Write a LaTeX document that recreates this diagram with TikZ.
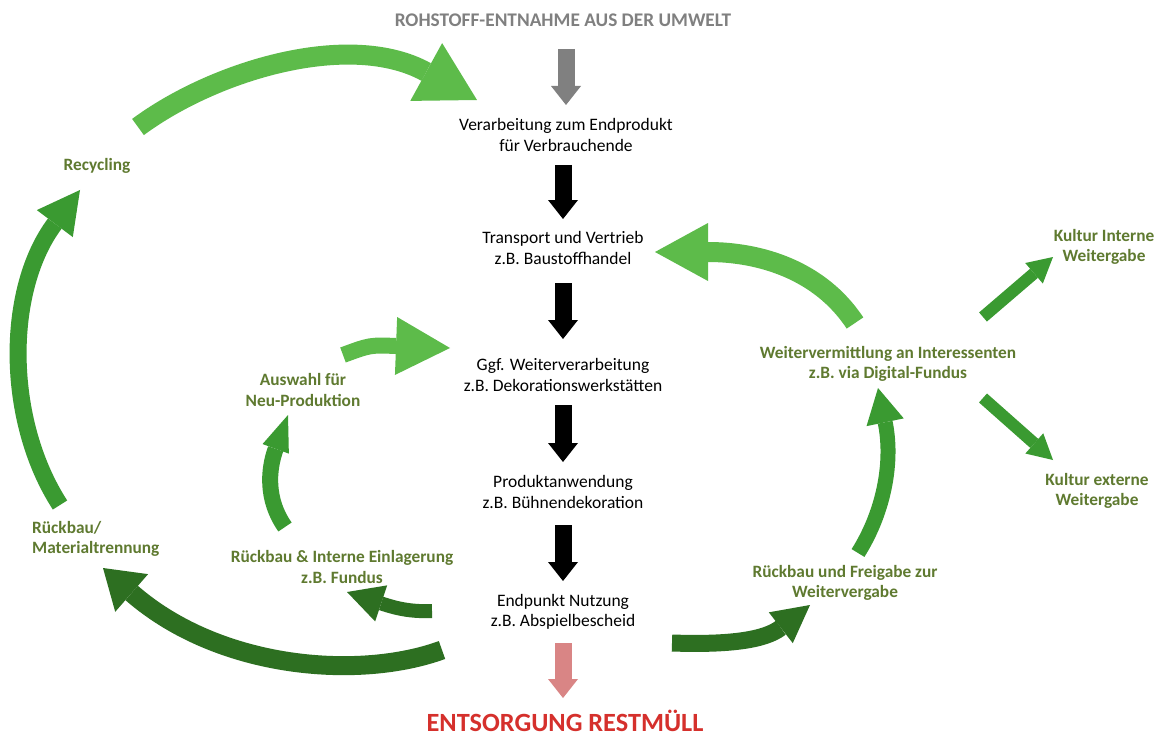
\documentclass[tikz,border=0pt]{standalone}
\usepackage{fontspec}
\setmainfont{Carlito}
\usetikzlibrary{arrows.meta}
\definecolor{lg}{HTML}{5DBB4A}
\definecolor{mg}{HTML}{3A9A31}
\definecolor{dg}{HTML}{2D6F21}
\definecolor{tg}{HTML}{5F7A30}
\definecolor{gr}{HTML}{808080}
\definecolor{pk}{HTML}{D98585}
\definecolor{rd}{HTML}{D5302C}
\tikzset{
  blk/.style={align=center, font=\fontsize{17.5}{20.5}\selectfont, text=black, inner sep=0pt},
  glbl/.style={align=center, font=\fontsize{17.3}{20.5}\selectfont\bfseries, text=tg, inner sep=0pt},
  flow/.style={draw=#1, line width=17pt, -{Triangle[length=19pt,width=30pt,line width=0pt,fill=#1]}},
  curv/.style n args={4}{draw=#1, line width=#2, -{Triangle[length=#3,width=#4,line width=0pt,fill=#1]}},
}
\begin{document}
\begin{tikzpicture}[x=1pt,y=-1pt]
\fill[white] (0,0) rectangle (1161,738);
\useasboundingbox (0,0) rectangle (1161,738);

% central chain texts
\node[font=\fontsize{19.3}{23}\selectfont\bfseries, text=gr, inner sep=0pt] (roh) at (563,20) {ROHSTOFF-ENTNAHME AUS DER UMWELT};
\node[blk] (verarb) at (566,135) {Verarbeitung zum Endprodukt\\für Verbrauchende};
\node[blk] (transp) at (563,248) {Transport und Vertrieb\\z.B. Baustoffhandel};
\node[blk] (weiterv) at (563,375) {Ggf. Weiterverarbeitung\\z.B. Dekorationswerkstätten};
\node[blk] (produkt) at (563,492) {Produktanwendung\\z.B. Bühnendekoration};
\node[blk] (endpunkt) at (563,612) {Endpunkt Nutzung\\z.B. Abspielbescheid};
\node[font=\fontsize{26.3}{30}\selectfont\bfseries, text=rd, inner sep=0pt] (entsorg) at (565,721) {ENTSORGUNG RESTMÜLL};

% green labels
\node[glbl] (recyc) at (97,166) {Recycling};
\node[glbl, align=left, anchor=west] (mattr) at (32,539) {Rückbau/\\Materialtrennung};
\node[glbl] (auswahl) at (303,390) {Auswahl für\\Neu-Produktion};
\node[glbl] (intern) at (342,567) {Rückbau \& Interne Einlagerung\\z.B. Fundus};
\node[glbl] (freigabe) at (845,583) {Rückbau und Freigabe zur\\Weitervergabe};
\node[glbl] (vermitt) at (888,364) {Weitervermittlung an Interessenten\\z.B. via Digital-Fundus};
\node[glbl] (kint) at (1104,247) {Kultur Interne\\Weitergabe};
\node[glbl] (kext) at (1097,491) {Kultur externe\\Weitergabe};

% coordinates for vertical flow arrows
\coordinate (g0) at (566,49);  \coordinate (g1) at (566,105);
\coordinate (b1a) at (563,165); \coordinate (b1b) at (563,219);
\coordinate (b2a) at (563,283); \coordinate (b2b) at (563,339);
\coordinate (b3a) at (563,405); \coordinate (b3b) at (563,462);
\coordinate (b4a) at (563,525); \coordinate (b4b) at (563,581);
\coordinate (p0) at (563,643);  \coordinate (p1) at (563,698);

\draw[flow=gr] (g0) -- (g1);
\draw[flow=black] (b1a) -- (b1b);
\draw[flow=black] (b2a) -- (b2b);
\draw[flow=black] (b3a) -- (b3b);
\draw[flow=black] (b4a) -- (b4b);
\draw[flow=pk] (p0) -- (p1);

% curved arrows: tail / tip coordinates
\coordinate (A0) at (138,127); \coordinate (A1) at (477,100);
\coordinate (B0) at (60,505);  \coordinate (B1) at (80,190);
\coordinate (C0) at (285,527); \coordinate (C1) at (288,415);
\coordinate (D0) at (343,355); \coordinate (D1) at (450,348);
\coordinate (E0) at (432,611); \coordinate (E1) at (347,592);
\coordinate (F0) at (442,650); \coordinate (F1) at (103,568);
\coordinate (G0) at (672,643); \coordinate (G1) at (810,605);
\coordinate (H0) at (858,553); \coordinate (H1) at (878,388);
\coordinate (I0) at (855,323); \coordinate (I1) at (655,252);
\coordinate (J0) at (983,317); \coordinate (J1) at (1053,257);
\coordinate (K0) at (983,398); \coordinate (K1) at (1053,460);

\draw[curv={lg}{20pt}{58pt}{66pt}] (A0) .. controls (215,70) and (350,30) .. (A1);
\draw[curv={mg}{17pt}{42pt}{45pt}] (B0) .. controls (5,420) and (5,290) .. (B1);
\draw[curv={mg}{16pt}{36pt}{28pt}] (C0) .. controls (266,500) and (268,470) .. (C1);
\draw[curv={lg}{16pt}{54pt}{58pt}] (D0) .. controls (370,345) .. (D1);
\draw[curv={dg}{14pt}{36pt}{38pt}] (E0) .. controls (410,612) and (395,608) .. (E1);
\draw[curv={dg}{19pt}{38pt}{50pt}] (F0) .. controls (360,680) and (220,670) .. (F1);
\draw[curv={dg}{17pt}{37pt}{39pt}] (G0) .. controls (730,645) and (765,640) .. (G1);
\draw[curv={mg}{15pt}{35pt}{38pt}] (H0) .. controls (885,510) and (893,460) .. (H1);
\draw[curv={lg}{20pt}{53pt}{58pt}] (I0) .. controls (820,270) and (760,252) .. (I1);
\draw[curv={mg}{12pt}{25pt}{27pt}] (J0) -- (J1);
\draw[curv={mg}{12pt}{25pt}{27pt}] (K0) -- (K1);
\end{tikzpicture}
\end{document}
